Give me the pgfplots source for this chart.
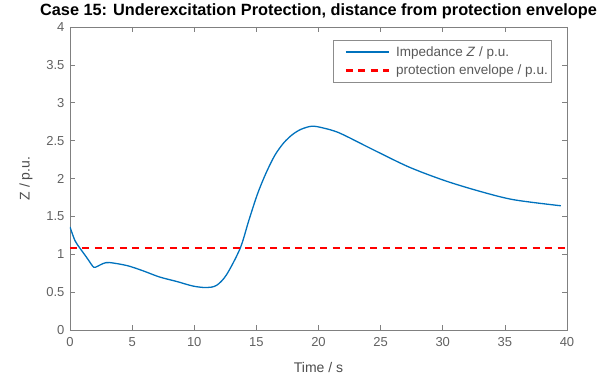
\documentclass[border=0pt]{standalone}
\usepackage{pgfplots}
\pgfplotsset{compat=1.18}
\usepackage{fontspec}
\setmainfont{Liberation Sans}
\definecolor{mblue}{rgb}{0,0.447,0.741}
\definecolor{axgray}{gray}{0.5}
\definecolor{lblgray}{gray}{0.38}
\begin{document}
\begin{tikzpicture}[x=1pt,y=1pt]
% fixed page frame around the axis box
\useasboundingbox (-70,-45) rectangle (544,330);
\begin{axis}[
  at={(0,0)}, anchor=south west,
  scale only axis,
  width=497pt, height=303pt,
  xmin=0, xmax=40, ymin=0, ymax=4,
  xtick={0,5,...,40},
  ytick={0,0.5,...,4},
  yticklabels={0,0.5,1,1.5,2,2.5,3,3.5,4},
  tick align=inside,
  tick pos=both,
  major tick length=5pt,
  axis line style={axgray, line width=0.6pt},
  tick style={axgray, line width=0.6pt},
  tick label style={font=\fontsize{13}{15}\selectfont, text=lblgray},
  xticklabel style={yshift=-4pt},
  yticklabel style={xshift=-2pt},
  /pgf/number format/assume math mode=true,
  xlabel={Time / s},
  ylabel={Z / p.u.},
  label style={font=\fontsize{14}{16}\selectfont, text=black!70},
  xlabel style={at={(axis description cs:0.5,0)}, anchor=center, yshift=-37pt},
  ylabel style={at={(axis description cs:-0.0885,0.5)}, anchor=center},
  title={\bfseries Case 15: Underexcitation Protection, distance from protection envelope},
  title style={font=\fontsize{16.3}{18}\selectfont, at={(axis description cs:0.5,1)}, anchor=base, yshift=5pt},
  legend style={at={(0.970,0.957)}, anchor=north east,
    font=\fontsize{13.5}{15}\selectfont, draw=black!45, line width=0.6pt,
    text=black!65, inner xsep=2pt, inner ysep=4pt, row sep=3pt},
  legend cell align=left,
  legend image code/.code={\path (0pt,0pt) (56pt,0pt); \draw[#1] (9pt,0pt) -- (52pt,0pt);},
]
% impedance trajectory
\addplot[mblue, line width=1.3pt, smooth, tension=0.5] coordinates {
  (0,1.36) (0.4,1.18) (0.8,1.08) (1.2,0.99) (1.5,0.92) (1.9,0.83)
  (2.2,0.84) (2.7,0.88) (3.2,0.89) (4.6,0.85) (5.9,0.78) (7.2,0.70)
  (8.6,0.64) (9.9,0.58) (11,0.56) (11.8,0.59) (12.6,0.73) (13.7,1.08)
  (14.4,1.45) (15.1,1.80) (15.8,2.08) (16.5,2.31) (17.2,2.47)
  (17.9,2.58) (18.6,2.65) (19.45,2.69) (20.3,2.67) (21.7,2.60)
  (24.4,2.38) (27.3,2.15) (30.2,1.97) (33,1.83) (35.7,1.72) (39.5,1.64)
};
\addlegendentry{Impedance \textit{Z} / p.u.}
% protection envelope
\addplot[red, line width=2.5pt, dash pattern=on 7pt off 5.5pt] coordinates {
  (0,1.08) (40,1.08)
};
\addlegendentry{protection envelope / p.u.}
\end{axis}
\end{tikzpicture}
\end{document}
